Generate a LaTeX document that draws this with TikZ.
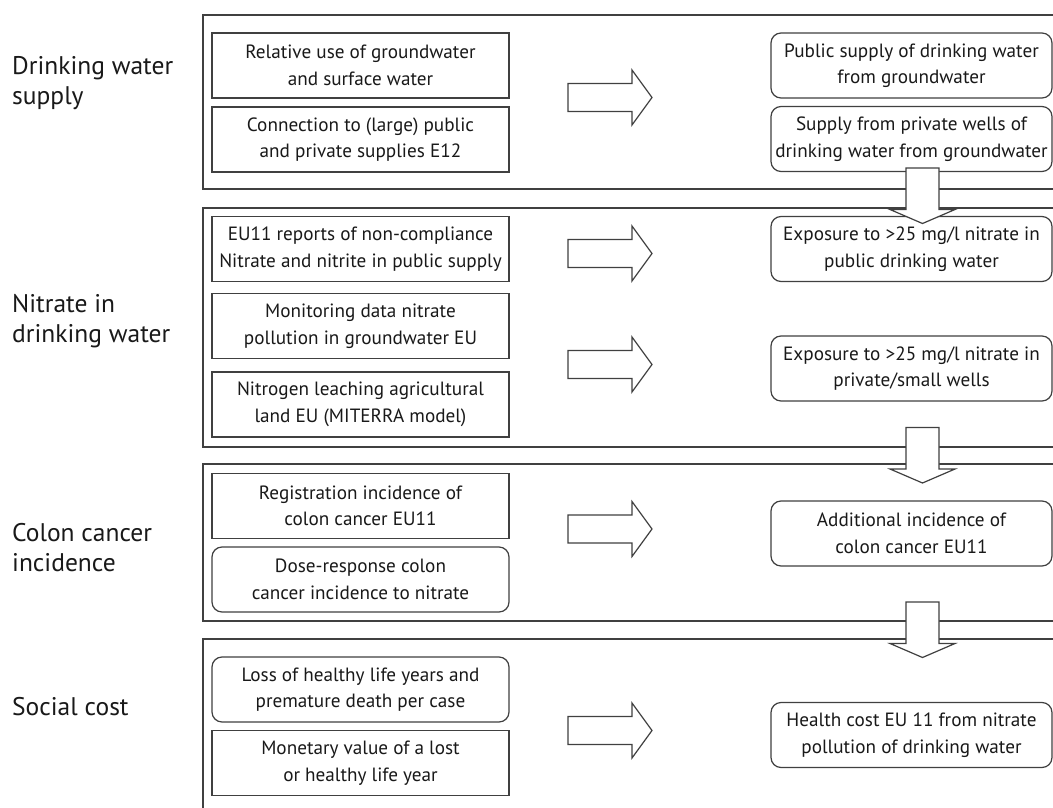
\documentclass[tikz,border=0pt]{standalone}
\usepackage{fontspec}
\setmainfont{PT Sans}
\begin{document}
\begin{tikzpicture}[x=1pt,y=-1pt,
  line cap=butt,
  lncol/.style={draw=black!75, line width=1.2pt},
  panel/.style={lncol},
  sqbox/.style={lncol, minimum width=297pt, minimum height=65pt, inner sep=0pt, align=center,
     font=\fontsize{19.2}{26.5}\selectfont, text=black!90},
  rbox/.style={sqbox, rounded corners=10pt},
  rtbox/.style={rbox, minimum width=281pt},
  sectlabel/.style={anchor=north west, inner sep=0pt, align=left,
     font=\fontsize{25.5}{30}\selectfont, text=black!90},
  rarrow/.pic={\draw[lncol, fill=white] (0,-14) -- (64,-14) -- (64,-27.5) -- (84,0) -- (64,27.5) -- (64,14) -- (0,14) -- cycle;},
  darrow/.pic={\draw[lncol, fill=white] (-16.5,0) -- (-16.5,41.5) -- (-32.5,41.5) -- (0,55.5) -- (32.5,41.5) -- (16.5,41.5) -- (16.5,0) -- cycle;}
]
\useasboundingbox (0,0) rectangle (1053,808);
\clip (0,0) rectangle (1053,808);
\fill[white] (0,0) rectangle (1053,808);

% panels
\draw[panel] (1060,15) -- (203,15) -- (203,189) -- (1060,189);
\draw[panel] (1060,208) -- (203,208) -- (203,447) -- (1060,447);
\draw[panel] (1060,464) -- (203,464) -- (203,621) -- (1060,621);
\draw[panel] (1060,639) -- (203,639) -- (203,820);

% section labels
\node[sectlabel] (s1) at (12,56) {Drinking water\\supply};
\node[sectlabel] (s2) at (12,294) {Nitrate in\\drinking water};
\node[sectlabel] (s3) at (12,523) {Colon cancer\\incidence};
\node[sectlabel] (s4) at (12,697) {Social cost};

% panel 1
\node[sqbox] (a1) at (360.5,65.5) {Relative use of groundwater\\and surface water};
\node[sqbox] (a2) at (360.5,139.5) {Connection to (large) public\\and private supplies E12};
\node[rtbox] (ar1) at (911.5,65.5) {Public supply of drinking water\\from groundwater};
\node[rtbox] (ar2) at (911.5,139) {Supply from private wells of\\drinking water from groundwater};
\pic at (568,97.5) {rarrow};

% panel 2
\node[sqbox] (b1) at (360.5,249) {EU11 reports of non-compliance\\Nitrate and nitrite in public supply};
\node[sqbox] (b2) at (360.5,326) {Monitoring data nitrate\\pollution in groundwater EU};
\node[sqbox] (b3) at (360.5,404.5) {Nitrogen leaching agricultural\\land EU (MITERRA model)};
\node[rtbox] (br1) at (911.5,249) {Exposure to >25 mg/l nitrate in\\public drinking water};
\node[rtbox] (br2) at (911.5,368.5) {Exposure to >25 mg/l nitrate in\\private/small wells};
\pic at (568,253.5) {rarrow};
\pic at (568,364.5) {rarrow};

% panel 3
\node[sqbox] (c1) at (360.5,506) {Registration incidence of\\colon cancer EU11};
\node[rbox] (c2) at (360.5,579.5) {Dose-response colon\\cancer incidence to nitrate};
\node[rtbox] (cr1) at (911.5,533.5) {Additional incidence of\\colon cancer EU11};
\pic at (568,529) {rarrow};

% panel 4
\node[rbox] (d1) at (360.5,689.5) {Loss of healthy life years and\\premature death per case};
\node[sqbox] (d2) at (360.5,763) {Monetary value of a lost\\or healthy life year};
\node[rtbox] (dr1) at (911.5,735) {Health cost EU 11 from nitrate\\pollution of drinking water};
\pic at (568,730.5) {rarrow};

% down arrows
\pic at (922.5,168) {darrow};
\pic at (922.5,427.5) {darrow};
\pic at (922.5,602) {darrow};
\end{tikzpicture}
\end{document}
